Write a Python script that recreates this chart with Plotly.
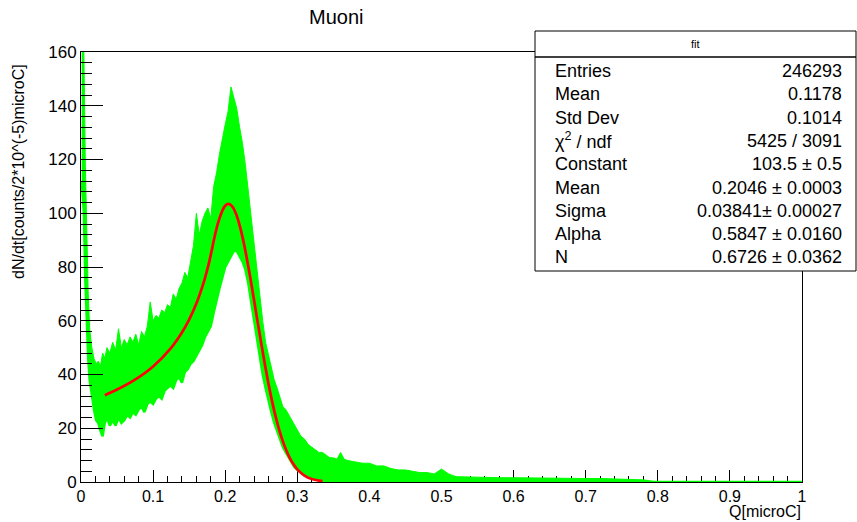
import plotly.graph_objects as go

# ---------------- data ----------------
# histogram band: x positions, upper and lower envelope of the dense green histogram
hist_x = [0.001, 0.004, 0.006, 0.008, 0.010, 0.012, 0.015, 0.018, 0.021, 0.024, 0.027, 0.030,
          0.033, 0.036, 0.040, 0.044, 0.048, 0.052, 0.056, 0.060, 0.064, 0.068, 0.072, 0.076,
          0.080, 0.084, 0.088, 0.092, 0.096, 0.100, 0.104, 0.108, 0.112, 0.116, 0.120, 0.124,
          0.128, 0.132, 0.136, 0.140, 0.144, 0.148, 0.152, 0.156, 0.160, 0.164, 0.168, 0.172,
          0.176, 0.180, 0.184, 0.188, 0.192, 0.196, 0.200, 0.204, 0.208, 0.212, 0.216, 0.220,
          0.224, 0.228, 0.232, 0.236, 0.240, 0.244, 0.248, 0.252, 0.256, 0.260, 0.264, 0.268,
          0.272, 0.276, 0.280, 0.284, 0.288, 0.292, 0.296, 0.300, 0.305, 0.310, 0.315, 0.320,
          0.325, 0.330, 0.335, 0.340, 0.345, 0.350, 0.355, 0.360, 0.365, 0.370, 0.380, 0.390,
          0.400, 0.410, 0.420, 0.430, 0.440, 0.450, 0.460, 0.470, 0.480, 0.490, 0.500, 0.510,
          0.520, 0.540, 0.560, 0.580, 0.600, 0.620, 0.640, 0.660, 0.680, 0.700, 0.720, 0.740,
          0.760, 0.780, 0.800, 1.000]
hist_upper = [170, 160, 118, 92, 70, 57, 50, 46, 44, 45, 43, 48,
              46, 50, 48, 52, 49, 57, 50, 53, 51, 54, 52, 55,
              51, 56, 54, 58, 67, 60, 62, 61, 64, 63, 66, 65,
              70, 68, 72, 74, 78, 76, 82, 88, 100, 92, 97, 100,
              102, 98, 110, 115, 122, 128, 133, 138, 147, 143, 139, 132,
              126, 118, 108, 100, 90, 80, 70, 60, 52, 47, 42, 38,
              35, 31, 28, 27, 25, 23, 21, 19, 17, 16, 14, 13,
              12, 11, 11, 10, 9, 9, 8.5, 11, 8.5, 8, 7.5, 7,
              7, 6, 6, 5, 4.5, 4.5, 4, 3.5, 3.5, 3, 4.8, 3,
              2, 1.8, 1.7, 1.6, 1.6, 1.5, 1.5, 1.4, 1.4, 1.3, 1.3, 1.1,
              1.0, 0.8, 0, 0]
hist_lower = [112, 100, 75, 58, 46, 38, 32, 27, 23, 22, 19, 17,
              22, 24, 21, 23, 21, 24, 22, 23, 25, 24, 26, 25,
              27, 28, 26, 29, 30, 29, 31, 32, 31, 34, 35, 36,
              35, 38, 39, 37, 41, 42, 44, 45, 47, 49, 51, 54,
              56, 58, 63, 68, 72, 76, 80, 82, 84, 86, 86, 84,
              82, 79, 74, 67, 60, 53, 46, 40, 35, 30, 26, 22,
              19, 16, 13, 11, 9, 7, 5.5, 4.5, 3.5, 2.5, 2, 1.5,
              1, 0.6, 0.4, 0, 0, 0, 0, 0, 0, 0, 0, 0,
              0, 0, 0, 0, 0, 0, 0, 0, 0, 0, 0, 0,
              0, 0, 0, 0, 0, 0, 0, 0, 0, 0, 0, 0,
              0, 0, 0, 0]

# red fit curve
fit_x = [0.033, 0.05, 0.075, 0.10, 0.125, 0.14, 0.15, 0.16, 0.17, 0.175, 0.178, 0.1821,
         0.185, 0.19, 0.195, 0.20, 0.2046, 0.21, 0.215, 0.22, 0.225, 0.23, 0.235, 0.24,
         0.245, 0.25, 0.255, 0.26, 0.265, 0.27, 0.275, 0.28, 0.285, 0.29, 0.295, 0.30,
         0.31, 0.32, 0.335]
fit_y = [32.3, 34.4, 38.1, 43.0, 49.9, 55.6, 60.4, 66.4, 74.1, 78.9, 82.1, 87.2,
         90.9, 96.3, 100.3, 102.8, 103.5, 102.5, 99.8, 95.5, 89.9, 83.2, 75.7, 67.7,
         59.5, 51.5, 43.8, 36.6, 30.1, 24.3, 19.3, 15.1, 11.6, 8.7, 6.5, 4.7,
         2.4, 1.1, 0.3]

# statistics box text
stat_labels = ["Entries", "Mean", "Std Dev", "\u03c7<sup>2</sup> / ndf", "Constant",
               "Mean", "Sigma", "Alpha", "N"]
stat_values = ["246293", "0.1178", "0.1014", "5425 / 3091", "103.5 \u00b1 0.5",
               "0.2046 \u00b1 0.0003", "0.03841\u00b1 0.00027", "0.5847 \u00b1 0.0160",
               "0.6726 \u00b1 0.0362"]

x_tickvals = [0, 0.1, 0.2, 0.3, 0.4, 0.5, 0.6, 0.7, 0.8, 0.9, 1.0]
x_ticktext = ["0", "0.1", "0.2", "0.3", "0.4", "0.5", "0.6", "0.7", "0.8", "0.9", "1"]

title_text = "Muoni"
x_title = "Q[microC]"
y_title = "dN/dt[counts/2*10^(-5)microC]"

# ---------------- layout helpers (pixel -> paper) ----------------
W, H = 857, 522
ML, MR, MT, MB = 81, 55, 52, 40
PW, PH = W - ML - MR, H - MT - MB


def px(x):
    return (x - ML) / PW


def py(y):
    return (H - MB - y) / PH


FONT = "Liberation Sans, Arial, sans-serif"
GREEN = "#00ff00"

fig = go.Figure()
fig.add_trace(go.Scatter(x=hist_x, y=hist_lower, mode="lines",
                         line=dict(color=GREEN, width=2.5),
                         hoverinfo="skip", showlegend=False))
fig.add_trace(go.Scatter(x=hist_x, y=hist_upper, mode="lines", fill="tonexty",
                         fillcolor=GREEN, line=dict(color=GREEN, width=1),
                         hoverinfo="skip", showlegend=False))
fig.add_trace(go.Scatter(x=fit_x, y=fit_y, mode="lines",
                         line=dict(color="#ff0000", width=2.7, shape="spline"),
                         hoverinfo="skip", showlegend=False))

fig.update_layout(
    width=W, height=H,
    margin=dict(l=ML, r=MR, t=MT, b=MB, autoexpand=False),
    paper_bgcolor="white", plot_bgcolor="white",
    font=dict(family=FONT, color="black"),
    showlegend=False,
    xaxis=dict(range=[0, 1], showline=True, linecolor="black", linewidth=1, mirror=True,
               ticks="inside", ticklen=12, tickwidth=1, tickcolor="black",
               tickmode="array", tickvals=x_tickvals, ticktext=x_ticktext, tickangle=0,
               minor=dict(ticks="inside", ticklen=6, dtick=0.02, tick0=0,
                          tickcolor="black", tickwidth=1),
               showgrid=False, zeroline=False, layer="below traces", automargin=False,
               tickfont=dict(family=FONT, size=16, color="black")),
    yaxis=dict(range=[0, 160], showline=True, linecolor="black", linewidth=1, mirror=True,
               ticks="inside", ticklen=22, tickwidth=1, tickcolor="black",
               tick0=0, dtick=20, automargin=False,
               minor=dict(ticks="inside", ticklen=11, dtick=4, tickcolor="black", tickwidth=1),
               showgrid=False, zeroline=False,
               tickfont=dict(family=FONT, size=17, color="black")),
)

shapes = [
    dict(type="rect", xref="paper", yref="paper", x0=px(535), x1=px(856), y0=py(271), y1=py(31),
         line=dict(color="black", width=1), fillcolor="white", layer="above"),
    dict(type="line", xref="paper", yref="paper", x0=px(535), x1=px(856), y0=py(57), y1=py(57),
         line=dict(color="black", width=1.5), layer="above"),
]
fig.update_layout(shapes=shapes)

ann = []
ann.append(dict(text=title_text, xref="paper", yref="paper", x=px(336), y=py(17),
                xanchor="center", yanchor="middle", showarrow=False,
                font=dict(family=FONT, size=20, color="black")))
ann.append(dict(text=x_title, xref="paper", yref="paper", x=px(803), y=py(511.5),
                xanchor="right", yanchor="middle", showarrow=False,
                font=dict(family=FONT, size=16, color="black")))
ann.append(dict(text=y_title, xref="paper", yref="paper", x=px(18), y=py(172),
                xanchor="center", yanchor="middle", textangle=-90, showarrow=False,
                font=dict(family=FONT, size=16, color="black")))
ann.append(dict(text="fit", xref="paper", yref="paper", x=px(695), y=py(44),
                xanchor="center", yanchor="middle", showarrow=False,
                font=dict(family=FONT, size=11, color="black")))
row_y0, row_dy = 71, 23.3
for i, (lab, val) in enumerate(zip(stat_labels, stat_values)):
    yy = row_y0 + i * row_dy
    ann.append(dict(text=lab, xref="paper", yref="paper", x=px(553), y=py(yy),
                    xanchor="left", yanchor="middle", showarrow=False,
                    font=dict(family=FONT, size=18, color="black")))
    ann.append(dict(text=val, xref="paper", yref="paper", x=px(844), y=py(yy),
                    xanchor="right", yanchor="middle", showarrow=False,
                    font=dict(family=FONT, size=18, color="black")))
fig.update_layout(annotations=ann)

fig.write_html("out.html")
